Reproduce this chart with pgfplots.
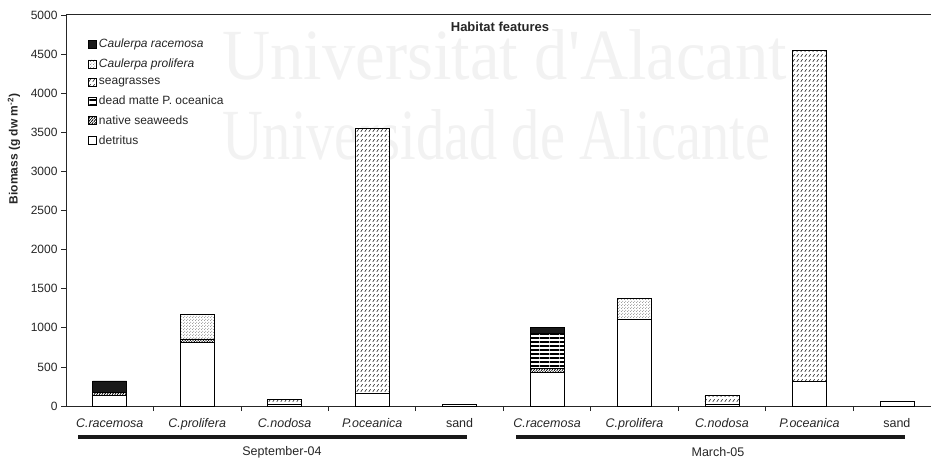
\documentclass[border=0pt]{standalone}
\usepackage{fontspec}
\setmainfont{Liberation Sans}
\newfontfamily\wmfont{Liberation Serif}
\usepackage{pgfplots}
\pgfplotsset{compat=1.18}
\usetikzlibrary{patterns}

\pgfdeclarepatternformonly{sgrass}{\pgfqpoint{-1pt}{-1pt}}{\pgfqpoint{5pt}{6pt}}{\pgfqpoint{4pt}{5pt}}{%
  \pgfsetlinewidth{0.55pt}%
  \pgfpathmoveto{\pgfqpoint{0.8pt}{1.2pt}}%
  \pgfpathlineto{\pgfqpoint{2.6pt}{3.8pt}}%
  \pgfusepath{stroke}}
\pgfdeclarepatternformonly{nseaw}{\pgfqpoint{-1pt}{-1pt}}{\pgfqpoint{4pt}{4pt}}{\pgfqpoint{2.6pt}{3pt}}{%
  \pgfsetlinewidth{0.8pt}%
  \pgfpathmoveto{\pgfqpoint{0.3pt}{0.3pt}}%
  \pgfpathlineto{\pgfqpoint{2.2pt}{2.7pt}}%
  \pgfusepath{stroke}}
\pgfdeclarepatternformonly{hstripes}{\pgfqpoint{0pt}{0pt}}{\pgfqpoint{10pt}{4.4pt}}{\pgfqpoint{10pt}{4.4pt}}{%
  \pgfpathrectangle{\pgfqpoint{0pt}{0pt}}{\pgfqpoint{10pt}{2pt}}%
  \pgfusepath{fill}}
\pgfdeclarepatternformonly{stipple}{\pgfqpoint{0pt}{0pt}}{\pgfqpoint{3pt}{3pt}}{\pgfqpoint{3pt}{3pt}}{%
  \pgfpathcircle{\pgfqpoint{0.75pt}{0.75pt}}{0.45pt}%
  \pgfpathcircle{\pgfqpoint{2.25pt}{2.25pt}}{0.45pt}%
  \pgfusepath{fill}}

\pgfplotsset{mylegend/.style={legend image code/.code={%
  \draw[##1,draw=black,line width=0.7pt] (0pt,-4pt) rectangle (8pt,4pt);}}}

\begin{document}
\begin{tikzpicture}[x=1pt,y=1pt]
\useasboundingbox (0,0) rectangle (931,458);
% watermark
\node[anchor=base west,inner sep=0pt,text=black!5] at (222,378)
  {\resizebox{565pt}{50pt}{\wmfont Universitat d'Alacant}};
\node[anchor=base west,inner sep=0pt,text=black!5] at (222,298)
  {\resizebox{548pt}{50pt}{\wmfont Universidad de Alicante}};

\begin{axis}[
  at={(66pt,52pt)}, anchor=south west,
  scale only axis, width=865pt, height=391pt,
  ybar stacked, bar width=34pt,
  xmin=-0.5, xmax=9.39, ymin=0, ymax=5000,
  axis x line=box, axis y line=left,
  axis line style={-, line width=1pt, draw=black!85},
  tick pos=left, tick align=outside,
  xtick={0,...,9},
  xticklabels={\textit{C.racemosa},\textit{C.prolifera},\textit{C.nodosa},\textit{P.oceanica},sand,
               \textit{C.racemosa},\textit{C.prolifera},\textit{C.nodosa},\textit{P.oceanica},sand},
  minor xtick={0.5,1.5,...,8.5},
  major x tick style={draw=none},
  minor tick length=5pt, major tick length=5pt,
  minor x tick style={line width=0.8pt, black!85},
  ytick={0,500,...,5000},
  y tick style={line width=0.8pt, black!85},
  /pgf/number format/assume math mode=true,
  /pgf/number format/.cd, 1000 sep={}, /pgfplots/.cd,
  yticklabel style={font=\fontsize{12}{12}\selectfont, text=black!85},
  xticklabel style={font=\fontsize{12.5}{13}\selectfont, text=black!85, yshift=-4pt},
  every axis plot post/.append style={mylegend},
  reverse legend,
  legend style={draw=none, fill=none, at={(0.0255,0.944)}, anchor=north west,
    font=\fontsize{12}{12}\selectfont, row sep=5.5pt, inner sep=0pt,
    cells={anchor=west}, text=black!85},
  clip=false,
]
% detritus
\addplot[draw=black, line width=0.7pt, fill=white] coordinates {(0,130) (1,815) (2,15) (3,160) (4,25) (5,430) (6,1110) (7,25) (8,315) (9,55)};
% native seaweeds
\addplot[draw=black, line width=0.7pt, preaction={fill=white}, pattern=nseaw] coordinates {(0,45) (1,42) (2,0) (3,0) (4,0) (5,50) (6,0) (7,0) (8,0) (9,0)};
% dead matte
\addplot[draw=black, line width=0.7pt, preaction={fill=white}, pattern=hstripes] coordinates {(0,0) (1,0) (2,0) (3,0) (4,0) (5,450) (6,0) (7,0) (8,0) (9,0)};
% seagrasses
\addplot[draw=black, line width=0.7pt, preaction={fill=white}, pattern=sgrass, pattern color=black!90] coordinates {(0,0) (1,0) (2,75) (3,3395) (4,0) (5,0) (6,0) (7,115) (8,4235) (9,0)};
% Caulerpa prolifera
\addplot[draw=black, line width=0.7pt, preaction={fill=white}, pattern=stipple, pattern color=black!75] coordinates {(0,0) (1,316) (2,0) (3,0) (4,0) (5,0) (6,272) (7,0) (8,0) (9,0)};
% Caulerpa racemosa
\addplot[draw=black, line width=0.7pt, fill=black!90] coordinates {(0,145) (1,0) (2,0) (3,0) (4,0) (5,77) (6,0) (7,0) (8,0) (9,0)};
\legend{detritus, native seaweeds, dead matte P. oceanica, seagrasses, \textit{Caulerpa prolifera}, \textit{Caulerpa racemosa}}
\end{axis}

% title
\node[font=\bfseries\fontsize{13}{13}\selectfont, text=black!85] at (500,431) {Habitat features};
% y label
\node[rotate=90, font=\bfseries\fontsize{12}{12}\selectfont, text=black!85] at (14,309) {Biomass (g dw m\textsuperscript{-2})};
% group lines and labels
\draw[line width=3.5pt, black!90] (78,21) -- (467,21);
\draw[line width=3.5pt, black!90] (516,21) -- (905,21);
\node[font=\fontsize{12.5}{13}\selectfont, text=black!85] at (282,6) {September-04};
\node[font=\fontsize{12.5}{13}\selectfont, text=black!85] at (718,6) {March-05};
\end{tikzpicture}
\end{document}
